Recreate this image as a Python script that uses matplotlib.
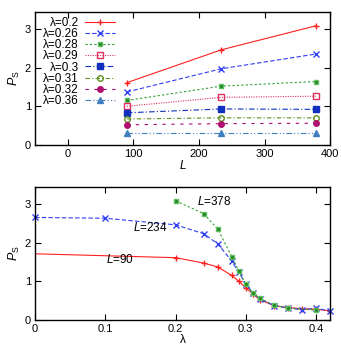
import matplotlib
matplotlib.use("Agg")
import matplotlib.pyplot as plt

plt.rcParams['font.family'] = ['Liberation Sans', 'DejaVu Sans']
plt.rcParams['font.size'] = 7.5
plt.rcParams['mathtext.fontset'] = 'custom'
plt.rcParams['mathtext.rm'] = 'Liberation Sans'
plt.rcParams['mathtext.it'] = 'Liberation Sans:italic'

# TOP PANEL DATA: P_S vs L for fixed lambda
L_vals = [90, 234, 378]
lam_labels = ['λ=0.2', 'λ=0.26', 'λ=0.28', 'λ=0.29', 'λ=0.3', 'λ=0.31', 'λ=0.32', 'λ=0.36']
ps_02 = [1.61, 2.46, 3.08]
ps_026 = [1.37, 1.97, 2.35]
ps_028 = [1.15, 1.52, 1.64]
ps_029 = [1.00, 1.23, 1.26]
ps_030 = [0.83, 0.93, 0.92]
ps_031 = [0.67, 0.70, 0.70]
ps_032 = [0.52, 0.55, 0.56]
ps_036 = [0.32, 0.32, 0.32]

# BOTTOM PANEL DATA: P_S vs lambda for fixed L
lam_90 = [0, 0.2, 0.24, 0.26, 0.28, 0.29, 0.3, 0.31, 0.32, 0.34, 0.36, 0.38, 0.4, 0.42]
ps_90 = [1.71, 1.61, 1.47, 1.37, 1.15, 1.00, 0.83, 0.67, 0.52, 0.37, 0.32, 0.29, 0.28, 0.23]
lam_234 = [0, 0.1, 0.2, 0.24, 0.26, 0.28, 0.29, 0.3, 0.31, 0.32, 0.34, 0.36, 0.38, 0.4, 0.42]
ps_234 = [2.65, 2.63, 2.46, 2.23, 1.97, 1.52, 1.23, 0.93, 0.70, 0.55, 0.37, 0.31, 0.26, 0.30, 0.23]
lam_378 = [0.2, 0.24, 0.26, 0.28, 0.29, 0.3, 0.31, 0.32, 0.34, 0.36, 0.4]
ps_378 = [3.08, 2.75, 2.35, 1.64, 1.26, 0.92, 0.70, 0.56, 0.38, 0.31, 0.25]

fig = plt.figure(figsize=(3.41, 3.5), dpi=100)
ax1 = fig.add_axes([0.103, 0.586, 0.865, 0.381])
ax2 = fig.add_axes([0.103, 0.086, 0.865, 0.381])

lw = 0.8
styles = [
    dict(color='#ff2020', ls='-', marker='+', ms=5, mfc='none'),
    dict(color='#3040f0', ls=(0, (4, 2)), marker='x', ms=4, mfc='none'),
    dict(color='#30a030', ls=(0, (2, 2)), marker='s', ms=3.5, mfc='#208020', mec='#60c060'),
    dict(color='#e03060', ls=(0, (1, 1.2)), marker='s', ms=4.5, mfc='none'),
    dict(color='#1030c0', ls=(0, (5, 2, 1, 2)), marker='s', ms=4, mfc='#1030c0'),
    dict(color='#609020', ls=(0, (4, 2, 1, 2)), marker='o', ms=4, mfc='none'),
    dict(color='#b01070', ls=(0, (3, 5)), marker='o', ms=4, mfc='#b01070'),
    dict(color='#4080c0', ls=(0, (5, 2, 1, 2, 1, 2)), marker='^', ms=4, mfc='#4080c0'),
]
series = [ps_02, ps_026, ps_028, ps_029, ps_030, ps_031, ps_032, ps_036]
for ys, lab, st in zip(series, lam_labels, styles):
    ax1.plot(L_vals, ys, lw=lw, label=lab, clip_on=False, **st)

ax1.set_xlim(-50, 400)
ax1.set_ylim(0, 3.45)
ax1.set_xticks([0, 100, 200, 300, 400])
ax1.set_yticks([0, 1, 2, 3])
ax1.set_xlabel(r'$L$', labelpad=0, fontsize=8.5)
ax1.set_ylabel(r'$P_{\rm S}$', labelpad=2, fontsize=9)
leg = ax1.legend(loc='upper right', bbox_to_anchor=(0.29, 1.0), frameon=False,
                 markerfirst=False, handlelength=2.6, handletextpad=0.5,
                 labelspacing=-0.07, borderpad=0.45, borderaxespad=0, fontsize=8.5)

ax2.plot(lam_90, ps_90, lw=lw, markevery=list(range(1, len(lam_90))), **styles[0])
ax2.plot(lam_234, ps_234, lw=lw, clip_on=False, **styles[1])
ax2.plot(lam_378, ps_378, lw=lw, **styles[2])
ax2.text(0.231, 2.98, r'$L$=378', fontsize=8.5)
ax2.text(0.14, 2.29, r'$L$=234', fontsize=8.5)
ax2.text(0.101, 1.48, r'$L$=90', fontsize=8.5)
ax2.set_xlim(0, 0.42)
ax2.set_ylim(0, 3.45)
ax2.set_xticks([0, 0.1, 0.2, 0.3, 0.4])
ax2.set_xticklabels(['0', '0.1', '0.2', '0.3', '0.4'])
ax2.set_yticks([0, 1, 2, 3])
ax2.set_xlabel('λ', labelpad=0, fontsize=8.5)
ax2.set_ylabel(r'$P_{\rm S}$', labelpad=2, fontsize=9)

for ax in (ax1, ax2):
    ax.tick_params(direction='in', top=True, right=True, length=4, width=0.8, pad=3,
                   labelsize=8)
    for sp in ax.spines.values():
        sp.set_linewidth(1.0)

fig.savefig('out.png', dpi=100)
